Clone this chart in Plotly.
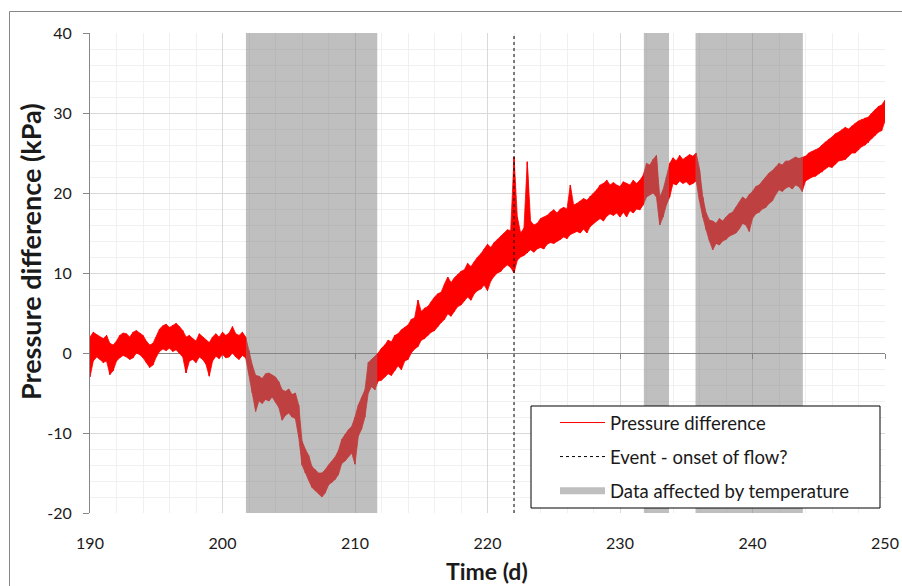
import plotly.graph_objects as go

# ---------------- data ----------------
DAY_START = 190.0
DAY_STEP = 0.25          # sample spacing of the min/max envelope (days)

# lower / upper envelope of the noisy pressure-difference record (kPa), 4 samples per day
p_low = [
    -3.0, -1.0, -0.5, -0.8,   # 190
    -1.2, -1.0, -2.7, -2.2,   # 191
    -1.0, -0.6, -0.3, -0.5,   # 192
    -0.8, -0.6, 0.0, -0.2,    # 193
    -0.6, -1.2, -1.8, -1.5,   # 194
    -0.5, 0.2, 0.5, 0.3,      # 195
    0.6, 0.2, 0.4, 0.0,       # 196
    -0.5, -2.5, -1.0, -0.8,   # 197
    -1.2, -0.5, -0.8, -1.4,   # 198
    -2.9, -1.0, -0.4, -0.7,   # 199
    -0.2, -0.6, -0.5, 0.0,    # 200
    -0.5, -0.8, -0.3, -0.6,   # 201
    -2.5, -5.0, -7.3, -6.0,   # 202
    -6.3, -5.8, -6.0, -5.5,   # 203
    -6.2, -6.8, -8.4, -7.8,   # 204
    -7.5, -8.0, -8.2, -10.5,  # 205
    -14.0, -15.0, -15.9, -16.8,  # 206
    -17.2, -17.6, -18.0, -17.5,  # 207
    -16.5, -16.2, -15.8, -15.2,  # 208
    -13.8, -13.5, -13.0, -12.5,  # 209
    -13.9, -10.4, -9.5, -8.0,    # 210
    -5.0, -4.2, -4.6, -3.5,      # 211
    -3.4, -3.0, -2.6, -2.8,      # 212
    -2.2, -1.6, -2.1, -1.0,      # 213
    -0.8, 0.0, 0.5, 0.8,         # 214
    1.6, 1.8, 2.2, 2.6,          # 215
    2.8, 3.3, 3.8, 4.2,          # 216
    4.9, 4.6, 5.2, 5.8,          # 217
    6.0, 6.5, 7.0, 6.6,          # 218
    7.4, 7.8, 8.0, 8.5,          # 219
    7.8, 9.0, 9.6, 10.0,         # 220
    10.2, 10.7, 11.0, 10.7,      # 221
    10.0, 11.6, 12.0, 12.2,      # 222
    12.5, 12.9, 12.6, 13.0,      # 223
    13.2, 13.0, 13.6, 13.8,      # 224
    13.7, 14.0, 14.2, 14.5,      # 225
    14.3, 14.8, 15.0, 15.2,      # 226
    15.0, 15.5, 15.0, 15.8,      # 227
    16.2, 16.5, 16.8, 16.5,      # 228
    17.1, 17.4, 17.2, 17.5,      # 229
    17.0, 17.6, 17.0, 17.8,      # 230
    17.5, 18.0, 17.9, 18.5,      # 231
    19.5, 19.8, 20.0, 19.5,      # 232
    16.0, 17.0, 18.5, 19.5,      # 233
    21.2, 21.0, 21.5, 21.2,      # 234
    21.4, 21.0, 21.2, 21.5,      # 235
    19.0, 17.0, 15.4, 14.0,      # 236
    12.9, 13.7, 13.5, 14.0,      # 237
    14.2, 14.6, 14.8, 15.0,      # 238
    15.5, 16.2, 16.0, 15.2,      # 239
    16.8, 17.4, 17.6, 18.0,      # 240
    18.2, 18.7, 19.0, 19.8,      # 241
    20.4, 20.2, 20.6, 20.8,      # 242
    20.5, 21.0, 20.8, 20.2,      # 243
    21.5, 21.8, 22.0, 22.1,      # 244
    22.4, 22.6, 23.0, 23.3,      # 245
    23.2, 23.6, 24.0, 24.1,      # 246
    24.2, 24.6, 25.0, 25.0,      # 247
    25.4, 25.8, 26.0, 26.3,      # 248
    26.8, 27.2, 27.6, 27.8,      # 249
    29.0,                        # 250
]
p_high = [
    2.0, 2.6, 2.3, 2.0,       # 190
    1.8, 2.2, 1.2, 1.0,       # 191
    1.5, 2.2, 2.5, 2.4,       # 192
    2.0, 2.6, 2.8, 2.5,       # 193
    2.2, 1.5, 1.0, 1.2,       # 194
    2.0, 3.0, 3.4, 3.6,       # 195
    3.2, 3.5, 3.7, 3.3,       # 196
    2.8, 2.0, 2.2, 1.8,       # 197
    1.5, 2.4, 2.0, 1.6,       # 198
    1.3, 2.0, 2.4, 2.0,       # 199
    2.6, 2.2, 2.5, 3.3,       # 200
    2.4, 2.2, 2.6, 2.0,       # 201
    0.3, -1.5, -2.8, -2.9,    # 202
    -3.2, -2.6, -2.5, -2.8,   # 203
    -3.0, -3.6, -4.6, -4.8,   # 204
    -4.5, -5.2, -5.0, -6.5,   # 205
    -11.0, -12.0, -12.8, -14.2,  # 206
    -14.6, -15.0, -15.0, -14.6,  # 207
    -14.0, -13.5, -13.0, -12.2,  # 208
    -10.8, -10.2, -9.6, -9.2,    # 209
    -8.0, -6.5, -5.5, -4.6,      # 210
    -1.2, -0.8, -0.5, 0.0,       # 211
    0.6, 1.0, 1.6, 1.4,          # 212
    2.2, 2.4, 2.9, 3.2,          # 213
    3.5, 4.2, 4.4, 6.6,          # 214
    5.2, 5.6, 5.8, 6.4,          # 215
    7.0, 7.4, 7.6, 8.6,          # 216
    9.5, 8.8, 9.4, 9.8,          # 217
    10.2, 10.4, 11.2, 10.8,      # 218
    11.4, 12.0, 12.4, 13.0,      # 219
    13.6, 13.2, 13.8, 14.2,      # 220
    14.6, 14.9, 15.4, 15.3,      # 221
    24.5, 17.0, 15.0, 15.6,      # 222
    23.9, 16.5, 16.0, 16.2,      # 223
    16.8, 17.0, 17.2, 17.6,      # 224
    17.9, 17.5, 18.0, 18.2,      # 225
    18.0, 21.0, 18.5, 18.7,      # 226
    19.0, 19.3, 19.1, 19.6,      # 227
    20.0, 20.4, 21.0, 21.2,      # 228
    21.6, 21.0, 21.3, 21.0,      # 229
    20.8, 21.4, 21.2, 21.0,      # 230
    21.6, 21.2, 21.6, 22.2,      # 231
    23.7, 23.5, 24.2, 24.7,      # 232
    19.5, 20.4, 22.0, 23.7,      # 233
    24.4, 24.0, 24.7, 24.2,      # 234
    24.5, 24.8, 24.6, 25.0,      # 235
    23.0, 19.5, 17.5, 16.6,      # 236
    16.5, 16.2, 16.8, 16.5,      # 237
    17.0, 17.4, 17.6, 18.2,      # 238
    18.8, 19.5, 19.2, 19.8,      # 239
    20.2, 20.8, 21.0, 21.5,      # 240
    22.0, 22.5, 22.8, 23.2,      # 241
    23.7, 23.5, 24.0, 24.0,      # 242
    24.2, 24.5, 24.3, 24.5,      # 243
    24.6, 25.0, 25.2, 25.4,      # 244
    25.6, 26.0, 26.4, 26.7,      # 245
    27.0, 27.4, 27.6, 27.9,      # 246
    28.2, 28.0, 28.4, 28.7,      # 247
    29.0, 29.2, 29.4, 29.5,      # 248
    30.0, 30.4, 30.8, 31.0,      # 249
    31.6,                        # 250
]

event_day = 222.0                      # "Event - onset of flow?"
temp_start = [201.77, 231.8, 235.7]    # periods affected by temperature
temp_end = [211.68, 233.7, 243.8]

x_ticks = [190, 200, 210, 220, 230, 240, 250]
y_ticks = [-20, -10, 0, 10, 20, 30, 40]
x_range = [190, 250]
y_range = [-20, 40]

assert len(p_low) == len(p_high)
day = [DAY_START + DAY_STEP * i for i in range(len(p_low))]

# min/max rendering of the dense record
line_x, line_y = [], []
for d, lo, hi in zip(day, p_low, p_high):
    line_x += [d, d]
    line_y += [lo, hi]
# envelope polygon (upper edge forward, lower edge back)
band_x = day + day[::-1]
band_y = p_high + p_low[::-1]

# ---------------- figure ----------------
FONT = "Lato"
TXT = "#1a1a1a"
AXIS = "#868686"
RED = "#ff0000"

fig = go.Figure()
fig.add_trace(go.Scatter(
    x=band_x, y=band_y, mode="lines", fill="toself", fillcolor=RED,
    line=dict(color=RED, width=0.8), showlegend=False, hoverinfo="skip",
    legendgroup="a"))
fig.add_trace(go.Scatter(
    x=line_x, y=line_y, mode="lines", name="Pressure difference",
    line=dict(color=RED, width=1), legendgroup="a", hoverinfo="skip"))
fig.add_trace(go.Scatter(
    x=[event_day, event_day], y=y_range, mode="lines", name="Event - onset of flow?",
    line=dict(color="#000000", width=1, dash="dot"), legendgroup="b"))
fig.add_trace(go.Scatter(
    x=[None], y=[None], mode="lines", name="Data affected by temperature",
    line=dict(color="#bfbfbf", width=7), legendgroup="c", xaxis="x2"))

shapes = []
for s, e in zip(temp_start, temp_end):
    shapes.append(dict(type="rect", xref="x", yref="y", x0=s, x1=e,
                       y0=y_range[0], y1=y_range[1],
                       fillcolor="rgba(128,128,128,0.5)", line=dict(width=0),
                       layer="above"))
# legend frame
shapes.append(dict(type="rect", xref="paper", yref="paper",
                   x0=(531 - 90) / 795, x1=(880 - 90) / 795,
                   y0=(513 - 508) / 480, y1=(513 - 406) / 480,
                   fillcolor="white", line=dict(color="#000000", width=1),
                   layer="above"))
# chart-area frame
shapes.append(dict(type="rect", xref="paper", yref="paper",
                   x0=(9.5 - 90) / 795, x1=1.05,
                   y0=-0.2, y1=1 + (33 - 11.5) / 480,
                   fillcolor="rgba(0,0,0,0)", line=dict(color=AXIS, width=1),
                   layer="below"))

fig.update_layout(
    width=902, height=586,
    margin=dict(l=90, r=17, t=33, b=73, autoexpand=False),
    paper_bgcolor="white", plot_bgcolor="white",
    font=dict(family=FONT, size=16, color=TXT),
    shapes=shapes,
    showlegend=True,
    legend=dict(x=(555 - 90) / 795, y=(513 - 404) / 480, xanchor="left", yanchor="top",
                bgcolor="rgba(0,0,0,0)", borderwidth=0,
                font=dict(family=FONT, size=18.5, color=TXT),
                tracegroupgap=7, itemwidth=45),
    xaxis=dict(range=x_range, tickvals=x_ticks, ticktext=[str(v) for v in x_ticks],
               showline=False, ticks="", ticklabelstandoff=19, automargin=False,
               showgrid=True, gridcolor="#d9d9d9", gridwidth=1,
               minor=dict(dtick=2, showgrid=True, gridcolor="#f0f0f0"),
               zeroline=False, tickfont=dict(size=16, color=TXT)),
    xaxis2=dict(range=x_range, overlaying="x", matches="x", anchor="free",
                position=1 / 3, side="bottom", showline=True, linecolor=AXIS,
                linewidth=1, ticks="outside", ticklen=5, tickcolor=AXIS,
                tickvals=x_ticks, showticklabels=False, showgrid=False,
                zeroline=False, layer="below traces", automargin=False),
    yaxis=dict(range=y_range, tickvals=y_ticks, ticktext=[str(v) for v in y_ticks],
               showline=True, linecolor=AXIS, linewidth=1, automargin=False,
               ticks="outside", ticklen=6, tickcolor=AXIS, ticklabelstandoff=8,
               showgrid=True, gridcolor="#d9d9d9", gridwidth=1,
               minor=dict(dtick=2, showgrid=True, gridcolor="#f0f0f0"),
               zeroline=False, tickfont=dict(size=16, color=TXT)),
    annotations=[
        dict(text="<b>Time (d)</b>", xref="paper", yref="paper",
             x=(487 - 90) / 795, y=(513 - 571) / 480, xanchor="center", yanchor="middle",
             showarrow=False, font=dict(family=FONT, size=23, color=TXT)),
        dict(text="<b>Pressure difference (kPa)</b>", xref="paper", yref="paper",
             x=(30 - 90) / 795, y=(513 - 252) / 480, xanchor="center", yanchor="middle",
             textangle=-90, showarrow=False, font=dict(family=FONT, size=27, color=TXT)),
    ],
)

fig.write_html("out.html")
